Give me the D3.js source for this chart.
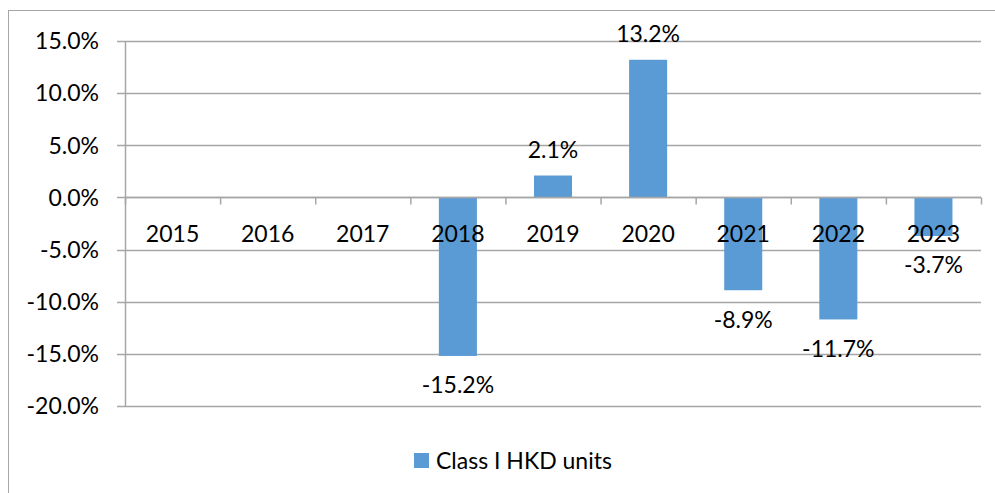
<!DOCTYPE html>
<html>
<head>
<meta charset="utf-8">
<script src="https://cdn.jsdelivr.net/npm/d3@7"></script>
<style>
	body { margin: 0; background: #fff; }
	text { font-family: Lato, "Open Sans", sans-serif; fill: #000; }
</style>
</head>
<body>
<div id="chart"></div>
<script>
const years = ["2015", "2016", "2017", "2018", "2019", "2020", "2021", "2022", "2023"];
const returns = [null, null, null, -15.2, 2.1, 13.2, -8.9, -11.7, -3.7];
const yTicks = [15, 10, 5, 0, -5, -10, -15, -20];
const seriesName = "Class I HKD units";

const width = 995, height = 493;
const plotLeft = 125, plotRight = 981, plotTop = 41, plotBottom = 406;
const barColor = "#5b9bd5";
const gridColor = "#a6a6a6";
const fontSize = "23px";

const svg = d3.select("#chart")
	.append("svg")
	.attr("width", width)
	.attr("height", height);

// outer chart frame (runs off the right and bottom edge)
svg.append("rect")
	.attr("x", 8.5)
	.attr("y", 10.5)
	.attr("width", 1000)
	.attr("height", 500)
	.style("fill", "none")
	.style("stroke", gridColor);

const x = d3.scaleBand().domain(years).range([plotLeft, plotRight]).padding(0);
const y = d3.scaleLinear().domain([-20, 15]).range([plotBottom, plotTop]);

// horizontal gridlines + left ticks
svg.selectAll("line.grid")
	.data(yTicks)
	.enter().append("line")
	.attr("class", "grid")
	.attr("x1", plotLeft - 8)
	.attr("x2", plotRight)
	.attr("y1", d => Math.round(y(d)) + 0.5)
	.attr("y2", d => Math.round(y(d)) + 0.5)
	.style("stroke", gridColor)
	.style("stroke-width", 1.5);

svg.append("line")
	.attr("x1", plotLeft + 0.5)
	.attr("x2", plotLeft + 0.5)
	.attr("y1", plotTop)
	.attr("y2", plotBottom)
	.style("stroke", gridColor)
	.style("stroke-width", 1.5);

svg.selectAll("text.ylab")
	.data(yTicks)
	.enter().append("text")
	.attr("class", "ylab")
	.attr("x", 99)
	.attr("y", d => y(d))
	.attr("dy", "0.36em")
	.attr("text-anchor", "end")
	.style("font-size", fontSize)
	.text(d => d.toFixed(1) + "%");

// bars
const barW = x.bandwidth() * 0.4;
const data = years.map((yr, i) => ({ year: yr, value: returns[i] })).filter(d => d.value !== null);

svg.selectAll("rect.bar")
	.data(data)
	.enter().append("rect")
	.attr("class", "bar")
	.attr("x", d => x(d.year) + (x.bandwidth() - barW) / 2)
	.attr("width", barW)
	.attr("y", d => y(Math.max(0, d.value)))
	.attr("height", d => Math.abs(y(d.value) - y(0)))
	.style("fill", barColor);

// category axis at zero
const y0 = Math.round(y(0)) + 0.5;
svg.append("line")
	.attr("x1", plotLeft)
	.attr("x2", plotRight)
	.attr("y1", y0)
	.attr("y2", y0)
	.style("stroke", gridColor)
	.style("stroke-width", 1.5);

svg.selectAll("line.xtick")
	.data(years.concat(["end"]))
	.enter().append("line")
	.attr("class", "xtick")
	.attr("x1", (d, i) => plotLeft + i * x.step() + 0.5)
	.attr("x2", (d, i) => plotLeft + i * x.step() + 0.5)
	.attr("y1", y0)
	.attr("y2", y0 + 7)
	.style("stroke", gridColor)
	.style("stroke-width", 1.5);

svg.selectAll("text.xlab")
	.data(years)
	.enter().append("text")
	.attr("class", "xlab")
	.attr("x", d => x(d) + x.bandwidth() / 2)
	.attr("y", y0 + 36)
	.attr("dy", "0.36em")
	.attr("text-anchor", "middle")
	.style("font-size", fontSize)
	.text(d => d);

// data labels
svg.selectAll("text.vlab")
	.data(data)
	.enter().append("text")
	.attr("class", "vlab")
	.attr("x", d => x(d.year) + x.bandwidth() / 2)
	.attr("y", d => d.value >= 0 ? y(d.value) - 26 : y(d.value) + 29)
	.attr("dy", "0.36em")
	.attr("text-anchor", "middle")
	.style("font-size", fontSize)
	.text(d => d.value.toFixed(1) + "%");

// legend
const legend = svg.append("g").attr("transform", "translate(414,453)");
legend.append("rect")
	.attr("width", 15)
	.attr("height", 15)
	.style("fill", barColor);
legend.append("text")
	.attr("x", 22)
	.attr("y", 7.5)
	.attr("dy", "0.36em")
	.style("font-size", fontSize)
	.text(seriesName);
</script>
</body>
</html>
